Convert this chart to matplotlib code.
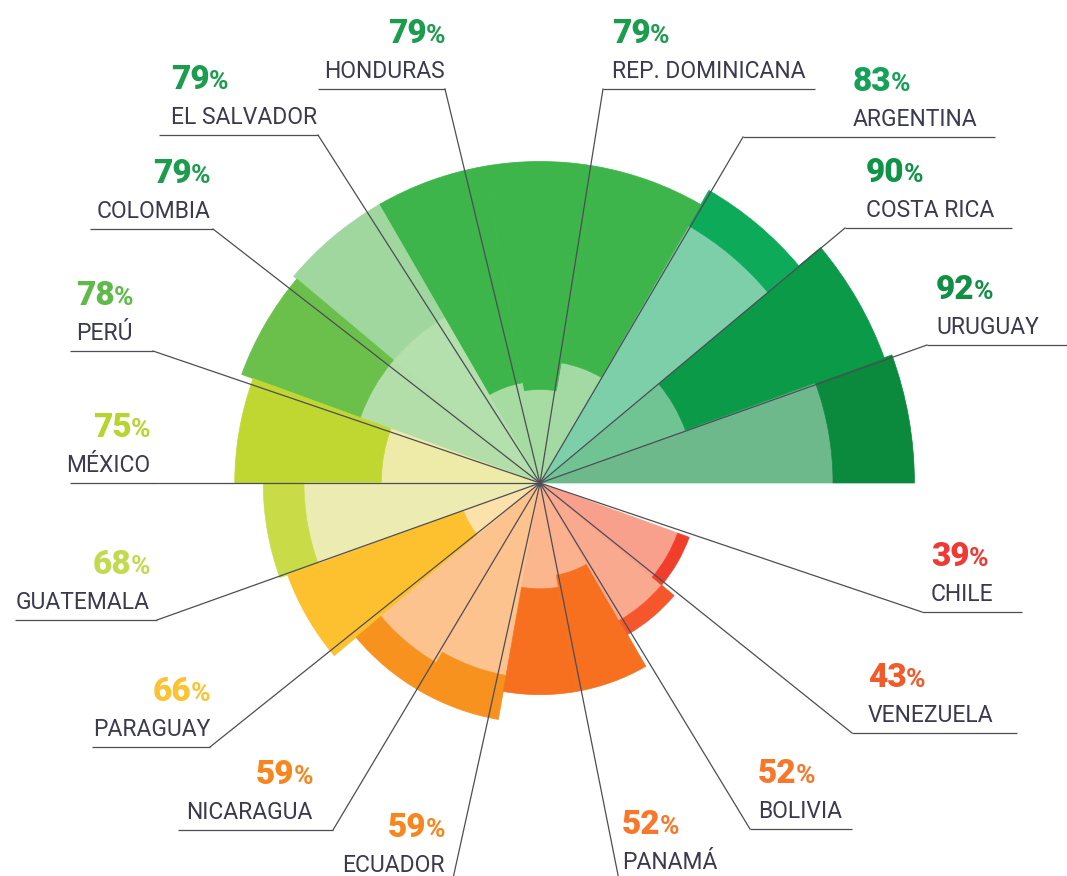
import numpy as np
import matplotlib
matplotlib.use("Agg")
import matplotlib.pyplot as plt
from matplotlib.patches import Wedge

plt.rcParams['font.family'] = ['Roboto', 'DejaVu Sans']

# Data, counter-clockwise from the right-hand horizontal
countries = ["URUGUAY", "COSTA RICA", "ARGENTINA", "REP. DOMINICANA", "HONDURAS",
             "EL SALVADOR", "COLOMBIA", "PERÚ", "MÉXICO", "GUATEMALA", "PARAGUAY",
             "NICARAGUA", "ECUADOR", "PANAMÁ", "BOLIVIA", "VENEZUELA", "CHILE"]
values = [92, 90, 83, 79, 79, 79, 79, 78, 75, 68, 66, 59, 59, 52, 52, 43, 39]
inner = [72, 38, 73, 30, 23, 25, 47, 47, 39, 58, 20, 51, 48, 26, 23, 39, 36]

outer_colors = ['#0b8a3e', '#0a9a48', '#0daa5a', '#3db54a', '#3db54a', '#3db54a',
                '#a0d79f', '#6bc04b', '#c0d732', '#c9dc48', '#fdc02f', '#f7921f',
                '#f7921f', '#f7701f', '#f7701f', '#f5562b', '#f03e2b']
inner_colors = ['#6db98b', '#70c494', '#7ccfa8', '#a3d9a3', '#a6dba2', '#a6dba2',
                '#b4e0ad', '#b3dea9', '#eeeaa7', '#ecebb2', '#fde1aa', '#fdc38e',
                '#fdc38e', '#fbb68e', '#fbb08e', '#f9a98e', '#f8a08b']
pct_colors = ['#138e45', '#0f9447', '#17a057', '#1d9c50', '#1d9c50', '#1d9c50',
              '#1d9c50', '#5fba4a', '#b8d430', '#c3da50', '#fbc232', '#f7861f',
              '#f7861f', '#f7782a', '#f7782a', '#f15a2b', '#ee3a33']

# Label layout in pixels (x from left, y from top):
# text x, alignment, underline start, underline end, underline y, leader start x
label_x = [936, 866, 853, 612, 445, 171, 210, 76, 150, 150, 210, 313, 445, 622, 758, 868, 931]
label_ha = ['left', 'left', 'left', 'left', 'right', 'left', 'right', 'left', 'right',
            'right', 'right', 'right', 'right', 'left', 'left', 'left', 'left']
line_x0 = [927, 845, 743, 603, 318, 159, 90, 70, 70, 15, 92, 178, 330, 619, 750, 852, 922]
line_x1 = [1070, 1012, 995, 815, 445, 318, 213, 153, 153, 157, 210, 333, 452, 730, 852, 1017, 1022]
line_y = [345, 228, 137, 89, 89, 135, 229, 351, 483, 620, 747, 830, 883, 880, 829, 733, 612]
lead_x = [927, 845, 743, 603, 445, 318, 213, 153, 153, 157, 210, 333, 452, 619, 750, 852, 922]

W, H = 1067, 876
CX, CY = 540, 483          # centre of the fan
PX_PER_UNIT = 4.07         # pixels per percentage point
RMAX = 100
SECTOR = 20                # degrees per country
LINE = '#4d4d55'
NAME = '#3b3a4e'

fig = plt.figure(figsize=(W / 100, H / 100), dpi=100)
fig.patch.set_facecolor('white')

# square chart axes in percentage units, centred on the fan centre
rad = RMAX * PX_PER_UNIT
ax = fig.add_axes([(CX - rad) / W, (H - CY - rad) / H, 2 * rad / W, 2 * rad / H])
ax.set_xlim(-RMAX, RMAX)
ax.set_ylim(-RMAX, RMAX)
ax.set_aspect('equal')
ax.set_axis_off()

for i, (v, r_in) in enumerate(zip(values, inner)):
    t1, t2 = SECTOR * i, SECTOR * (i + 1)
    ax.add_patch(Wedge((0, 0), r_in, t1, t2, facecolor=inner_colors[i],
                       edgecolor=inner_colors[i], lw=0.5, joinstyle='round'))
    ax.add_patch(Wedge((0, 0), v, t1, t2, width=v - r_in, facecolor=outer_colors[i],
                       edgecolor=outer_colors[i], lw=0.5, joinstyle='round'))

# overlay in pixel units for labels and leader lines
ov = fig.add_axes([0, 0, 1, 1])
ov.set_xlim(0, W)
ov.set_ylim(H, 0)
ov.set_axis_off()
ov.patch.set_alpha(0)
cx, cy = ov.transData.inverted().transform(ax.transData.transform((0, 0)))

renderer = fig.canvas.get_renderer()


def pct_label(x, y, num, color, ha):
    t1 = ov.text(x, y, num, fontsize=24, fontweight='heavy', color=color,
                 ha='left', va='baseline')
    t2 = ov.text(x, y, '%', fontsize=19, fontweight='bold', color=color,
                 ha='left', va='baseline')
    w1 = t1.get_window_extent(renderer).width
    w2 = t2.get_window_extent(renderer).width
    gap = -1.0
    start = x if ha == 'left' else x - (w1 + gap + w2)
    t1.set_x(start)
    t2.set_x(start + w1 + gap)


for i, name in enumerate(countries):
    y = line_y[i]
    ov.plot([line_x0[i], line_x1[i]], [y, y], color=LINE, lw=0.9,
            solid_capstyle='butt')
    ov.plot([lead_x[i], cx], [y, cy], color=LINE, lw=0.9)
    ov.text(label_x[i], y - 11, name, fontsize=16.5, color=NAME,
            ha=label_ha[i], va='baseline')
    pct_label(label_x[i], y - 46, str(values[i]), pct_colors[i], label_ha[i])

fig.savefig('out.png', dpi=100, facecolor='white')
